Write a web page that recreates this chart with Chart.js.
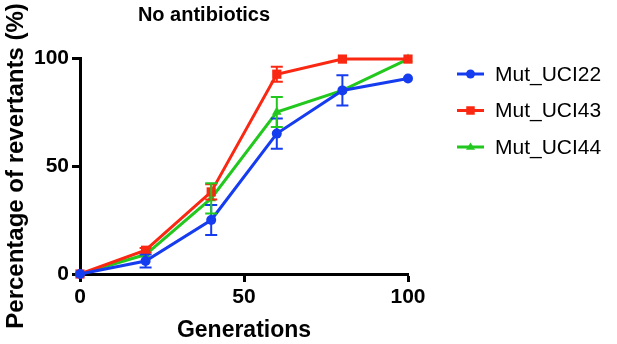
<!DOCTYPE html>
<html>
<head>
<meta charset="utf-8">
<script src="https://cdn.jsdelivr.net/npm/chart.js"></script>
<style>
  html, body { margin: 0; padding: 0; background: #fff; }
</style>
</head>
<body>
<canvas id="revertChart" width="617" height="344"></canvas>
<script>
const generations = [0, 20, 40, 60, 80, 100];

const uci22 = [0, 6, 25, 65, 85, 90.5];
const uci22Err = [0, 3, 7, 7, 7, 0];

const uci43 = [0, 11, 38, 92.5, 99.5, 99.5];
const uci43Err = [0, 1, 3.5, 3.5, 0, 0];

const uci44 = [0, 9, 35, 75, 85, 99.5];
const uci44Err = [0, 0, 7, 7, 0, 0];

const xTicks = [0, 50, 100];
const yTicks = [0, 50, 100];

const BLUE = 'rgb(22, 60, 240)';
const RED = 'rgb(250, 40, 18)';
const GREEN = 'rgb(34, 200, 30)';

const FONT = '"Liberation Sans", Arial, sans-serif';

function toPoints(ys) {
  return generations.map((g, i) => ({ x: g, y: ys[i] }));
}

// error bars drawn from the scales
const errorBars = {
  id: 'errorBars',
  afterDatasetsDraw(chart) {
    const ctx = chart.ctx;
    const xs = chart.scales.x;
    const ys = chart.scales.y;
    chart.data.datasets.forEach((ds) => {
      if (!ds.errors) return;
      ctx.save();
      ctx.strokeStyle = ds.borderColor;
      ctx.lineWidth = 2;
      ds.data.forEach((p, i) => {
        const e = ds.errors[i];
        if (!e) return;
        const px = xs.getPixelForValue(p.x);
        const top = ys.getPixelForValue(p.y + e);
        const bot = ys.getPixelForValue(p.y - e);
        ctx.beginPath();
        ctx.moveTo(px, top);
        ctx.lineTo(px, bot);
        ctx.moveTo(px - 6, top);
        ctx.lineTo(px + 6, top);
        ctx.moveTo(px - 6, bot);
        ctx.lineTo(px + 6, bot);
        ctx.stroke();
      });
      ctx.restore();
    });
  }
};

function drawMarker(ctx, style, x, y, r) {
  ctx.beginPath();
  if (style === 'circle') {
    ctx.arc(x, y, r, 0, Math.PI * 2);
  } else if (style === 'rect') {
    const s = r * Math.SQRT1_2;
    ctx.rect(x - s, y - s, s * 2, s * 2);
  } else {
    ctx.moveTo(x, y - r);
    ctx.lineTo(x + r, y + r * 0.6);
    ctx.lineTo(x - r, y + r * 0.6);
    ctx.closePath();
  }
  ctx.fill();
}

// legend with line + marker, to the right of the plot
const sideLegend = {
  id: 'sideLegend',
  afterDraw(chart) {
    const ctx = chart.ctx;
    ctx.save();
    ctx.font = '21px ' + FONT;
    ctx.textBaseline = 'middle';
    chart.data.datasets.forEach((ds, i) => {
      const y = 74 + i * 36.5;
      ctx.strokeStyle = ds.borderColor;
      ctx.fillStyle = ds.borderColor;
      ctx.lineWidth = 3;
      ctx.beginPath();
      ctx.moveTo(457, y);
      ctx.lineTo(484, y);
      ctx.stroke();
      drawMarker(ctx, ds.pointStyle, 470.5, y, ds.pointStyle === 'rect' ? 6 : 4.5);
      ctx.fillStyle = '#000';
      ctx.fillText(ds.label, 495, y + 1);
    });
    ctx.restore();
  }
};

const axisCommon = {
  type: 'linear',
  min: 0,
  max: 100,
  border: { display: true, color: '#000', width: 3 },
  grid: {
    display: true,
    drawOnChartArea: false,
    drawTicks: true,
    tickLength: 8,
    tickWidth: 3,
    tickColor: '#000',
    color: '#000'
  }
};

new Chart(document.getElementById('revertChart'), {
  type: 'line',
  data: {
    datasets: [
      {
        label: 'Mut_UCI22',
        data: toPoints(uci22),
        errors: uci22Err,
        borderColor: BLUE,
        backgroundColor: BLUE,
        pointStyle: 'circle',
        pointRadius: 5,
        pointBorderWidth: 0,
        borderWidth: 3,
        clip: false
      },
      {
        label: 'Mut_UCI43',
        data: toPoints(uci43),
        errors: uci43Err,
        borderColor: RED,
        backgroundColor: RED,
        pointStyle: 'rect',
        pointRadius: 6.5,
        pointBorderWidth: 0,
        borderWidth: 3,
        clip: false
      },
      {
        label: 'Mut_UCI44',
        data: toPoints(uci44),
        errors: uci44Err,
        borderColor: GREEN,
        backgroundColor: GREEN,
        pointStyle: 'triangle',
        pointRadius: 5.5,
        pointBorderWidth: 0,
        borderWidth: 3,
        clip: false
      }
    ]
  },
  options: {
    responsive: false,
    animation: false,
    layout: { padding: { left: 0, right: 209, top: 0, bottom: 0 } },
    plugins: {
      legend: { display: false },
      tooltip: { enabled: false },
      title: {
        display: true,
        text: 'No antibiotics',
        color: '#000',
        font: { family: FONT, size: 20, weight: 'bold' },
        padding: { top: 3, bottom: 31 }
      }
    },
    scales: {
      x: {
        ...axisCommon,
        afterBuildTicks(scale) { scale.ticks = xTicks.map(v => ({ value: v })); },
        afterFit(scale) { scale.height = 70; },
        ticks: {
          color: '#000',
          padding: 3,
          font: { family: FONT, size: 21, weight: 'bold' }
        },
        title: {
          display: true,
          text: 'Generations',
          color: '#000',
          font: { family: FONT, size: 23, weight: 'bold' },
          padding: { top: 7, bottom: 0 }
        }
      },
      y: {
        ...axisCommon,
        afterBuildTicks(scale) { scale.ticks = yTicks.map(v => ({ value: v })); },
        afterFit(scale) { scale.width = 80; },
        ticks: {
          color: '#000',
          padding: 3,
          font: { family: FONT, size: 21, weight: 'bold' }
        },
        title: {
          display: true,
          text: 'Percentage of revertants (%)',
          color: '#000',
          font: { family: FONT, size: 24, weight: 'bold' },
          padding: { top: 2, bottom: 3 }
        }
      }
    }
  },
  plugins: [errorBars, sideLegend]
});
</script>
</body>
</html>
